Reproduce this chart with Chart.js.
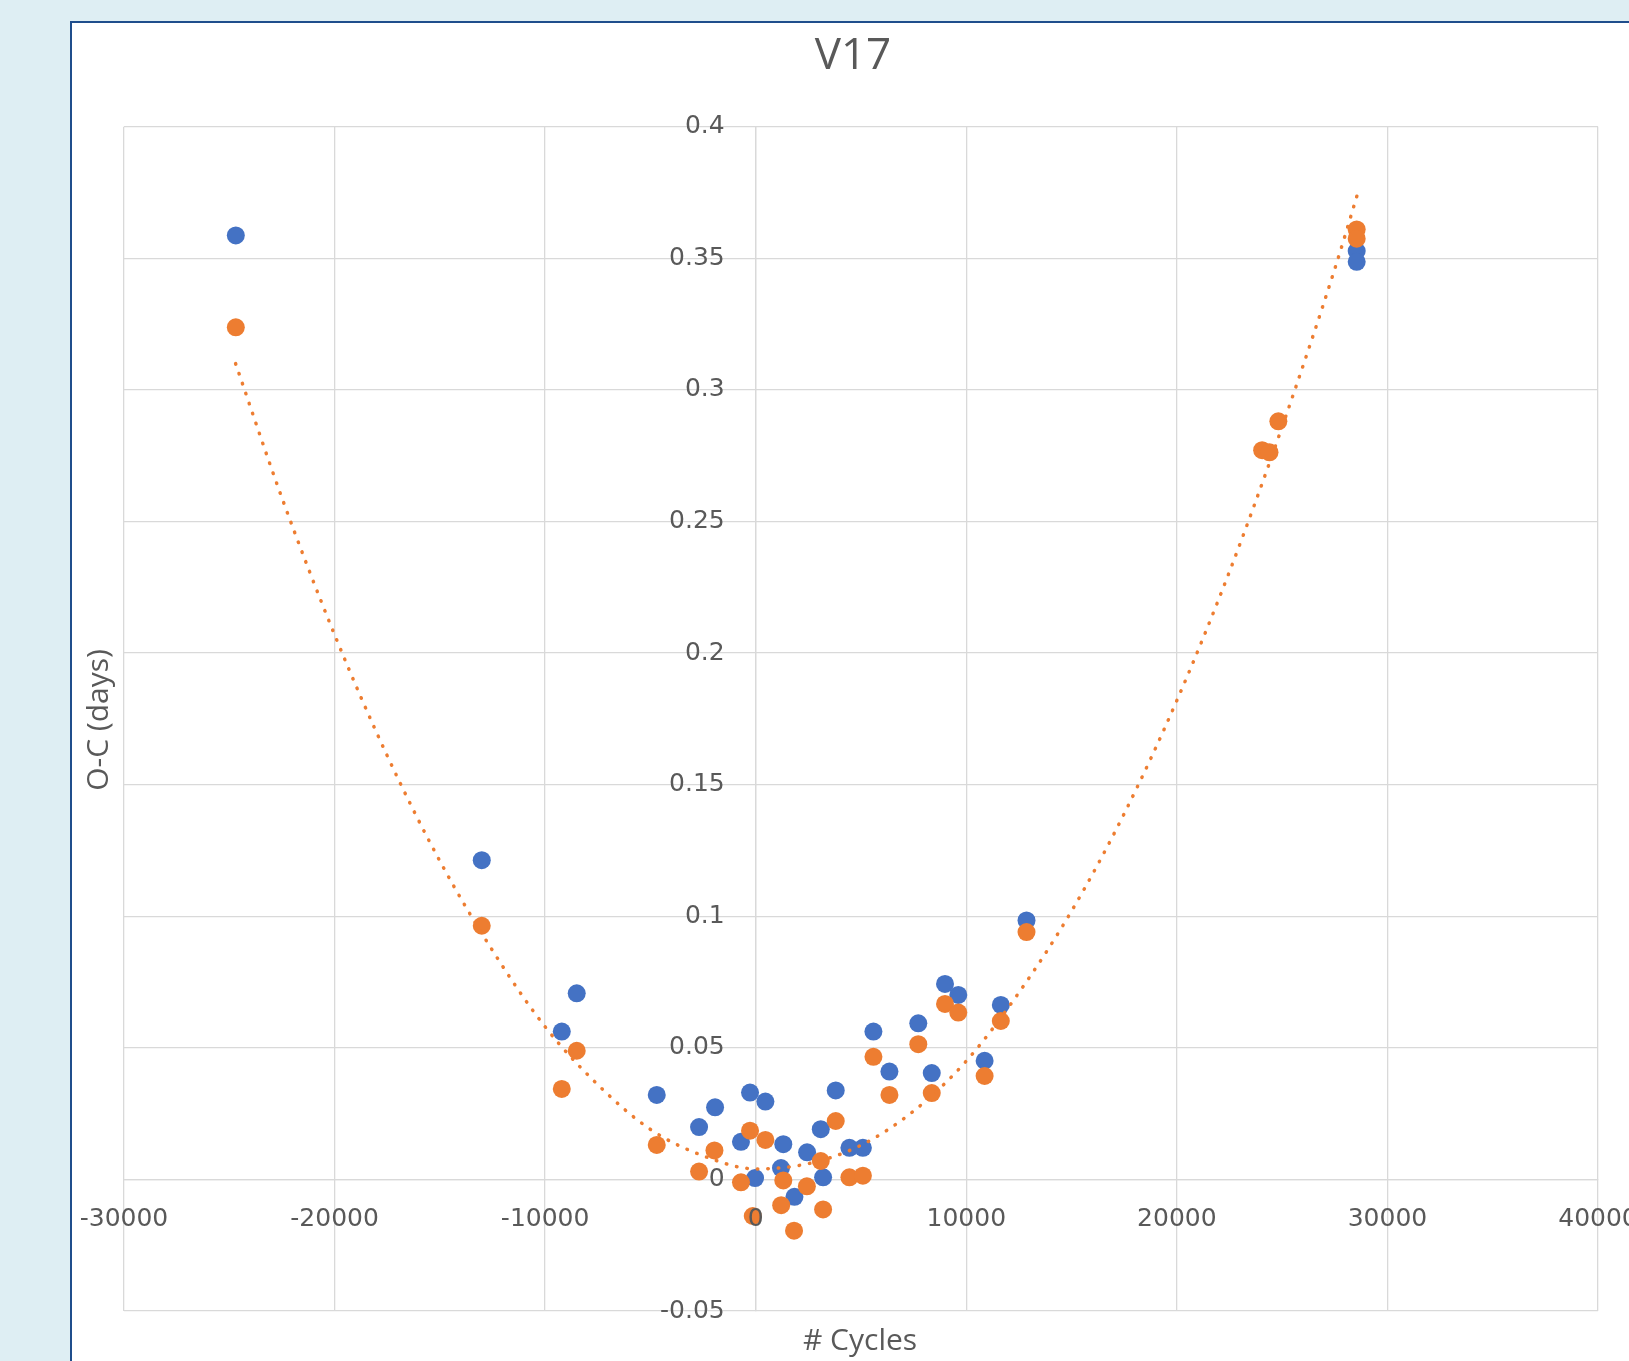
<!DOCTYPE html>
<html>
<head>
<meta charset="utf-8">
<script src="https://cdn.jsdelivr.net/npm/chart.js@4/dist/chart.umd.min.js"></script>
<style>
  html, body { margin: 0; padding: 0; width: 1629px; height: 1361px; overflow: hidden; background: #deeef3; }
  #frame { position: absolute; left: 70px; top: 21px; width: 1636px; height: 1377px; border: 2px solid #1f4e8c; background: #ffffff; }
  #c { position: absolute; left: 0; top: 0; }
</style>
</head>
<body>
<div id="frame"><canvas id="c" width="1636" height="1377"></canvas></div>
<script>
// ---- Data ----
const chartTitle = "V17";
const xAxisTitle = "# Cycles";
const yAxisTitle = "O-C (days)";

const blueCycles = [-24690, -13010, -9210, -8500, -4700, -2690, -1930, -700, -270, -30, 460, 1200, 1310, 1840, 2440, 3090, 3200, 3800, 4450, 5090, 5590, 6350, 7720, 8360, 8990, 9620, 10870, 11640, 12860, 28540, 28540];
const blueOC     = [0.3587, 0.1213, 0.0562, 0.0707, 0.0321, 0.0199, 0.0274, 0.0143, 0.0330, 0.0005, 0.0296, 0.0043, 0.0134, -0.0066, 0.0103, 0.0191, 0.0008, 0.0338, 0.0120, 0.0120, 0.0562, 0.0410, 0.0593, 0.0404, 0.0743, 0.0701, 0.0451, 0.0663, 0.0984, 0.3528, 0.3487];

const orangeCycles = [-24690, -13010, -9210, -8500, -4700, -2690, -1960, -700, -270, -140, 460, 1210, 1310, 1820, 2430, 3090, 3200, 3800, 4450, 5090, 5590, 6350, 7720, 8360, 8990, 9620, 10870, 11640, 12860, 24050, 24400, 24820, 28540, 28540];
const orangeOC     = [0.3238, 0.0964, 0.0344, 0.0489, 0.0131, 0.0030, 0.0110, -0.0011, 0.0185, -0.0139, 0.0150, -0.0098, -0.0004, -0.0195, -0.0026, 0.0070, -0.0114, 0.0222, 0.0008, 0.0014, 0.0466, 0.0321, 0.0514, 0.0328, 0.0667, 0.0634, 0.0393, 0.0602, 0.0940, 0.2771, 0.2763, 0.2881, 0.3610, 0.3575];

// dotted trend curve
const trendCycles = [-24700, -22500, -20000, -17500, -15000, -12500, -10000, -7500, -5000, -2500, 0, 2500, 5000, 7500, 10000, 12500, 15000, 17500, 20000, 22500, 25000, 27500, 28600];
const trendOC     = [0.310, 0.259, 0.207, 0.161, 0.121, 0.087, 0.058, 0.036, 0.019, 0.009, 0.004, 0.006, 0.013, 0.026, 0.045, 0.071, 0.102, 0.139, 0.182, 0.231, 0.286, 0.346, 0.375];

const xTickValues = [-30000, -20000, -10000, 0, 10000, 20000, 30000, 40000];
const yTickValues = [-0.05, 0, 0.05, 0.1, 0.15, 0.2, 0.25, 0.3, 0.35, 0.4];

// ---- Build ----
const toPts = (xs, ys) => xs.map((x, i) => ({x: x, y: ys[i]}));
const GRID = '#d9d9d9';
const TXT = '#595959';
const FONT = '"Open Sans", "Noto Sans", sans-serif';
const TICKFONT = '"DejaVu Sans", "Open Sans", sans-serif';
const Y_LABEL_GAP = 31;
const TITLE_SHIFT = 8;

// y labels sit left of the x = 0 axis line with a gap; title nudged left
const tweaks = {
  id: 'tweaks',
  afterLayout(chart) {
    if (chart.titleBlock) {
      chart.titleBlock.left -= TITLE_SHIFT;
      chart.titleBlock.right -= TITLE_SHIFT;
    }
  },
  beforeDraw(chart) {
    const s = chart.scales.y;
    const items = s.getLabelItems();
    if (!items._shifted) {
      items.forEach(it => { it.options.translation[0] -= Y_LABEL_GAP; });
      items._shifted = true;
    }
  }
};

const axisTitles = {
  id: 'axisTitles',
  afterDraw(chart) {
    const ctx = chart.ctx;
    ctx.save();
    ctx.fillStyle = TXT;
    ctx.font = '30px ' + FONT;
    ctx.textAlign = 'center';
    ctx.textBaseline = 'middle';
    ctx.fillText(xAxisTitle, 788, 1318);
    ctx.translate(27, 697);
    ctx.rotate(-Math.PI / 2);
    ctx.fillText(yAxisTitle, 0, 0);
    ctx.restore();
  }
};

new Chart(document.getElementById('c'), {
  type: 'scatter',
  data: {
    datasets: [
      {
        type: 'line',
        label: 'Trend',
        data: toPts(trendCycles, trendOC),
        borderColor: '#ed7d31',
        borderWidth: 3.5,
        borderDash: [0.5, 10],
        borderCapStyle: 'round',
        pointRadius: 0,
        fill: false,
        tension: 0.4,
        cubicInterpolationMode: 'monotone'
      },
      {
        label: 'O-C corrected',
        data: toPts(orangeCycles, orangeOC),
        backgroundColor: '#ed7d31',
        borderWidth: 0,
        pointRadius: 9
      },
      {
        label: 'O-C',
        data: toPts(blueCycles, blueOC),
        backgroundColor: '#4472c4',
        borderWidth: 0,
        pointRadius: 9
      }
    ]
  },
  options: {
    responsive: false,
    animation: false,
    devicePixelRatio: 1,
    layout: { padding: { left: 52, right: 110, top: 0, bottom: 89 } },
    plugins: {
      legend: { display: false },
      tooltip: { enabled: false },
      title: {
        display: true,
        text: chartTitle,
        color: TXT,
        font: { family: FONT, size: 44, weight: 'normal' },
        padding: { top: 7, bottom: 44 }
      }
    },
    scales: {
      x: {
        type: 'linear',
        position: { y: 0 },
        min: -30000,
        max: 40000,
        afterBuildTicks: (s) => { s.ticks = xTickValues.map(v => ({value: v})); },
        grid: { color: GRID, lineWidth: 1.3, drawTicks: true, tickLength: 25, tickColor: 'rgba(0,0,0,0)' },
        border: { color: GRID, width: 1.3 },
        ticks: {
          z: 1,
          color: TXT,
          padding: 0,
          maxRotation: 0,
          autoSkip: false,
          font: { family: TICKFONT, size: 25 },
          callback: (v) => String(v)
        }
      },
      y: {
        type: 'linear',
        position: { x: 0 },
        min: -0.05,
        max: 0.4,
        afterBuildTicks: (s) => { s.ticks = yTickValues.map(v => ({value: v})); },
        grid: { color: GRID, lineWidth: 1.3, drawTicks: false },
        border: { color: GRID, width: 1.3 },
        ticks: {
          z: 1,
          color: TXT,
          padding: 0,
          autoSkip: false,
          font: { family: TICKFONT, size: 25 },
          callback: (v) => String(Math.round(v * 100) / 100)
        }
      }
    }
  },
  plugins: [tweaks, axisTitles]
});
</script>
</body>
</html>
